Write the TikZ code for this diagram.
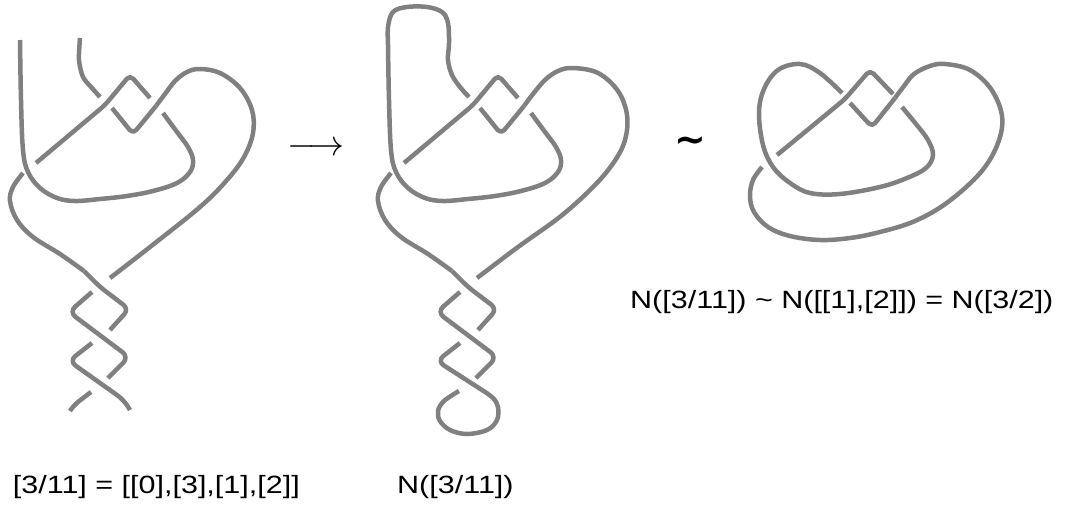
\documentclass[tikz,border=0pt]{standalone}
\usepackage{fontspec}
\usepackage{graphicx}
\setmainfont{Liberation Sans}
\newfontfamily\labfont[FakeStretch=1.22]{Liberation Sans}
\newfontfamily\tildefont{DejaVu Sans}
\definecolor{kg}{RGB}{128,128,128}
\begin{document}
\begin{tikzpicture}[x=1pt,y=-1pt,
  strand/.style={draw=kg, line width=4.5pt, line join=round},
  lab/.style={font={\labfont\fontsize{25}{30}\selectfont}, inner sep=0pt, anchor=base west}]
\useasboundingbox (0,0) rectangle (1078,504);

% ---------------- Figure 1 ----------------
% strand A (left vertical, bottom edge)
\draw[strand] plot[smooth, tension=0.6] coordinates {(20,40) (21,100) (23,150) (28,172) (40,188) (57,198) (75,201) (100,199) (127,196) (153,191) (177,183) (190,172) (193,160) (188,147) (177,132) (163,113)};
% top strand B
\draw[strand] plot[smooth] coordinates {(80,38) (79,60) (83,77) (92,88) (100,97)};
% diamond strand
\draw[strand, rounded corners=5pt] (150,98) -- (130,75) -- (105,105) -- (36,163);
% diamond bottom
\draw[strand, rounded corners=5pt] (112,108) -- (133,134) -- (156,106);
% big lobe
\draw[strand] plot[smooth, tension=0.6] coordinates {(156,106) (165,94) (175,81) (187,72) (200,69) (220,73) (240,88) (252,110) (253,133) (244,157) (227,180) (200,207) (150,247) (110,278)};
% lower left lobe
\draw[strand] plot[smooth, tension=0.6] coordinates {(23,173) (13,187) (10,201) (17,220) (33,237) (60,254) (84,271)};
\draw[strand, rounded corners=7pt] (84,271) -- (100,287) -- (129,309) -- (110,330);
% twists
\draw[strand, rounded corners=8pt] (92,292) -- (69,312) -- (129,357) -- (108,378);
\draw[strand, rounded corners=8pt] (92,343) -- (69,361) -- (124,400) -- (130,410);
\draw[strand, rounded corners=6pt] (91,392) -- (74,405) -- (70,411);

% ---------------- Figure 2 ----------------
\begin{scope}[xshift=368pt]
\draw[strand] plot[smooth, tension=0.6] coordinates {(101,97) (92,87) (84,75) (80,60) (81,43) (80,23) (74,12) (59,7) (39,7) (25,12) (20,27) (20,45) (21,100) (23,150) (28,172) (40,188) (57,198) (75,201) (100,199) (127,196) (153,191) (177,183) (190,172) (193,160) (188,147) (177,132) (163,113)};
\draw[strand, rounded corners=5pt] (150,98) -- (130,75) -- (105,105) -- (36,163);
\draw[strand, rounded corners=5pt] (112,108) -- (133,134) -- (156,106);
\draw[strand] plot[smooth, tension=0.6] coordinates {(156,106) (165,94) (177,80) (190,71) (205,68) (230,73) (250,91) (259,115) (257,140) (246,162) (226,186) (193,216) (150,247) (109,278)};
\draw[strand] plot[smooth, tension=0.6] coordinates {(23,173) (13,187) (10,201) (17,220) (33,237) (60,254) (84,271)};
\draw[strand, rounded corners=7pt] (84,271) -- (100,287) -- (129,309) -- (110,330);
\draw[strand, rounded corners=8pt] (92,292) -- (69,312) -- (129,357) -- (108,378);
\draw[strand] plot[smooth, tension=0.6] coordinates {(91,391) (76,401) (70,411) (72,421) (82,430) (99,434) (119,430) (129,420) (130,407) (125,398) (114,390)};
\draw[strand, rounded corners=8pt] (114,390) -- (69,361) -- (92,343);
\end{scope}

% ---------------- Figure 3 ----------------
\draw[strand] plot[smooth, tension=0.6] coordinates {(842,93) (820,73) (800,64) (778,70) (764,89) (759,113) (763,145) (773,167) (790,183) (810,193) (840,194) (880,187) (907,178) (926,168) (933,155) (928,140) (916,124) (902,107)};
\draw[strand, rounded corners=5pt] (777,155) -- (845,99) -- (870,70) -- (893,94);
\draw[strand, rounded corners=5pt] (850,103) -- (872,127) -- (895,98);
\draw[strand] plot[smooth, tension=0.6] coordinates {(895,98) (904,86) (914,74) (930,66) (945,64) (970,70) (991,89) (1002,116) (998,143) (981,172) (948,202) (915,221) (880,232) (850,238) (820,240) (790,236) (768,227) (754,212) (750,196) (753,180) (762,167)};

% ---------------- labels ----------------
\node[inner sep=0pt] (arr) at (316,149) {\scalebox{3.6}{$\longrightarrow$}};
\node[inner sep=0pt] (tl) at (690,145) {\tildefont\bfseries\fontsize{38}{38}\selectfont\textasciitilde};
\node[lab] (l1) at (12.7,493) {[3/11] = [[0],[3],[1],[2]]};
\node[lab] (l2) at (397,493) {N([3/11])};
\node[lab] (l3) at (630,308) {N([3/11]) \textasciitilde{} N([[1],[2]]) = N([3/2])};
\end{tikzpicture}
\end{document}
